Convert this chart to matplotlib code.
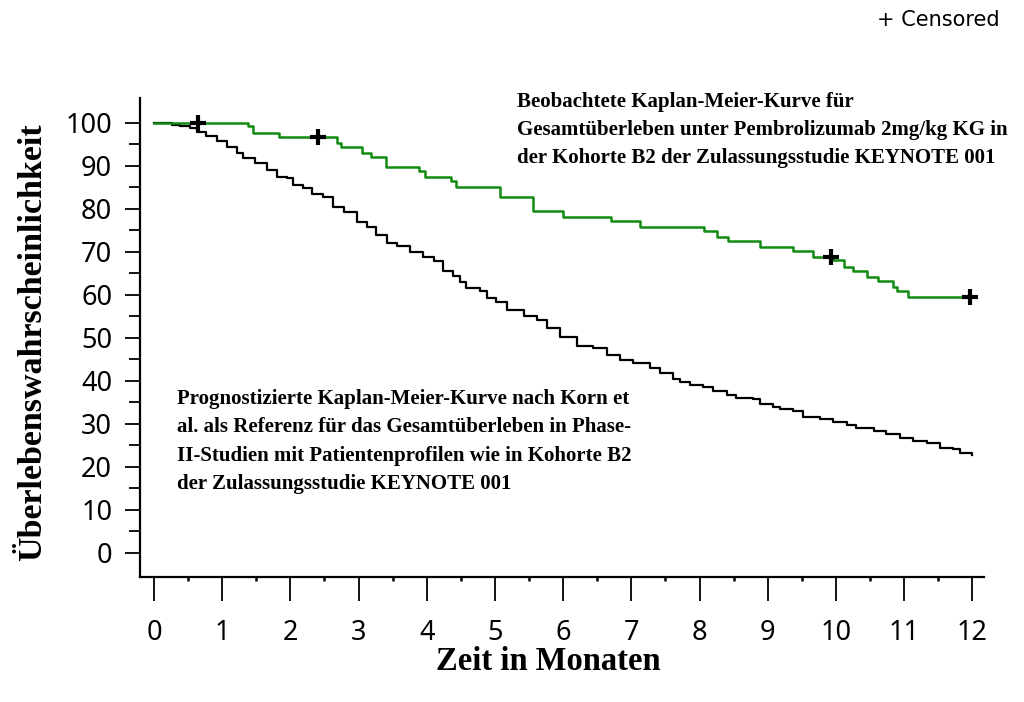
import numpy as np
import matplotlib.pyplot as plt
from matplotlib.ticker import FixedLocator

obs_t = [0.0, 1.38, 1.45, 1.83, 2.68, 2.74, 3.05, 3.18, 3.40, 3.88, 3.97, 4.36,
         4.43, 5.07, 5.56, 6.00, 6.70, 7.12, 8.06, 8.26, 8.41, 8.88, 9.37, 9.67,
         9.96, 10.11, 10.25, 10.46, 10.61, 10.84, 10.90, 11.05, 11.97]
obs_s = [100.0, 99.2, 97.7, 96.8, 95.4, 94.5, 93.1, 92.0, 89.8, 88.9, 87.4, 86.4,
         85.0, 82.7, 79.6, 78.1, 77.2, 75.8, 74.9, 73.5, 72.6, 71.2, 70.2, 68.8,
         68.1, 66.5, 65.6, 64.2, 63.3, 61.9, 60.9, 59.5, 59.5]
cens_t = [0.64, 2.41, 9.92, 11.97]
cens_s = [100.0, 96.8, 68.8, 59.5]

# predicted KM curve (Korn et al.)
pred_t = [0.0, 0.26, 0.38, 0.53, 0.63, 0.77, 0.92, 1.07, 1.21, 1.31, 1.48, 1.65,
          1.80, 1.95, 2.04, 2.19, 2.31, 2.48, 2.63, 2.78, 2.97, 3.12, 3.26, 3.41,
          3.56, 3.75, 3.95, 4.10, 4.24, 4.39, 4.49, 4.58, 4.78, 4.88, 5.02, 5.17,
          5.42, 5.61, 5.76, 5.95, 6.20, 6.44, 6.64, 6.83, 7.03, 7.27, 7.42, 7.61,
          7.71, 7.86, 8.05, 8.20, 8.40, 8.54, 8.79, 8.89, 9.08, 9.18, 9.37, 9.52,
          9.77, 9.96, 10.16, 10.30, 10.55, 10.74, 10.94, 11.13, 11.33, 11.52, 11.72,
          11.82, 12.0]
pred_s = [100.0, 99.6, 99.3, 98.8, 98.0, 97.0, 95.7, 94.5, 93.0, 91.8, 90.6, 89.1,
          87.4, 87.1, 85.6, 84.8, 83.5, 82.7, 80.5, 79.4, 77.0, 75.9, 74.0, 72.0,
          71.4, 70.0, 68.8, 67.9, 65.6, 64.3, 63.1, 61.5, 60.8, 59.2, 58.4, 56.5,
          55.1, 54.2, 52.3, 50.3, 48.1, 47.6, 46.0, 44.9, 44.1, 43.0, 41.8, 40.4,
          39.8, 39.1, 38.7, 37.7, 36.7, 36.1, 35.7, 34.7, 34.0, 33.4, 32.9, 31.7,
          31.1, 30.5, 29.8, 29.0, 28.4, 27.7, 26.7, 26.0, 25.5, 24.3, 24.1, 23.3,
          22.7]

x_ticks = list(range(0, 13))
y_ticks = list(range(0, 101, 10))
x_minor = [i + 0.5 for i in range(12)]
y_minor = list(range(5, 100, 10))

txt_obs = ("Beobachtete Kaplan-Meier-Kurve für\n"
           "Gesamtüberleben unter Pembrolizumab 2mg/kg KG in\n"
           "der Kohorte B2 der Zulassungsstudie KEYNOTE 001")
txt_pred = ("Prognostizierte Kaplan-Meier-Kurve nach Korn et\n"
            "al. als Referenz für das Gesamtüberleben in Phase-\n"
            "II-Studien mit Patientenprofilen wie in Kohorte B2\n"
            "der Zulassungsstudie KEYNOTE 001")

plt.rcParams['font.family'] = ['Noto Sans', 'DejaVu Sans']
serif = ['Liberation Serif', 'DejaVu Serif']

fig = plt.figure(figsize=(10.24, 7.02), dpi=100)
ax = fig.add_axes([140 / 1024, 1 - 577 / 702, 844 / 1024, 479 / 702])

ax.plot(pred_t, pred_s, drawstyle='steps-post', color='black', lw=1.6)
ax.plot(obs_t, obs_s, drawstyle='steps-post', color='#118a11', lw=1.8)
ax.plot(cens_t, cens_s, '+', color='black', ms=11, mew=3)

ax.set_xlim(-0.205, 12.17)
ax.set_ylim(-5.6, 105.8)
ax.set_xticks(x_ticks)
ax.set_yticks(y_ticks)
ax.xaxis.set_minor_locator(FixedLocator(x_minor))
ax.yaxis.set_minor_locator(FixedLocator(y_minor))
ax.tick_params(axis='x', which='major', direction='out', length=17, width=1.3,
               pad=13, labelsize=19.5)
ax.tick_params(axis='x', which='minor', direction='out', length=3, width=1.8)
ax.tick_params(axis='y', which='major', direction='out', length=11, width=1.3,
               pad=9, labelsize=19.5)
ax.tick_params(axis='y', which='minor', direction='out', length=8, width=1.3)

for side in ['top', 'right']:
    ax.spines[side].set_visible(False)
for side in ['left', 'bottom']:
    ax.spines[side].set_linewidth(1.6)

fig.text(548 / 1024, 1 - 662 / 702, "Zeit in Monaten", family=serif,
         fontweight='bold', fontsize=23.5, ha='center', va='center')
fig.text(33 / 1024, 1 - 342 / 702, "Überlebenswahrscheinlichkeit", family=serif,
         fontweight='bold', fontsize=24.5, ha='center', va='center', rotation=90)

fig.text(517 / 1024, 1 - 92 / 702, txt_obs, family=serif, fontweight='bold',
         fontsize=15, ha='left', va='top', linespacing=1.55)
fig.text(177 / 1024, 1 - 389 / 702, txt_pred, family=serif, fontweight='bold',
         fontsize=15, ha='left', va='top', linespacing=1.55)

fig.text(1000 / 1024, 1 - 20 / 702, "+ Censored", fontsize=15,
         family=['DejaVu Sans'], ha='right', va='center')

fig.savefig("out.png", dpi=100)
